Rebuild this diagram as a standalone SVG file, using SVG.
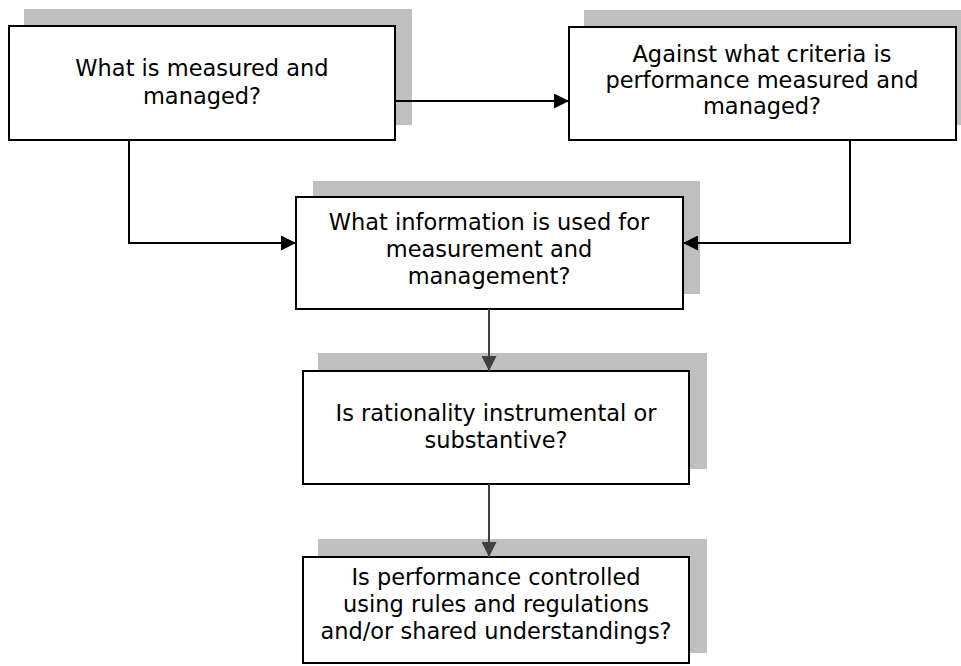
<svg xmlns="http://www.w3.org/2000/svg" width="961" height="666" viewBox="0 0 961 666">
  <style>
    .shadow { fill: #bfbfbf; }
    .box { fill: #ffffff; stroke: #000000; stroke-width: 2; }
    .label { font-family: "DejaVu Sans", Verdana, sans-serif; font-size: 22.5px; fill: #000000; text-anchor: middle; }
    .link { fill: none; stroke: #000000; stroke-width: 2; }
    .down { fill: none; stroke: #404040; stroke-width: 2; }
  </style>
  <defs>
    <marker id="arrow-black" viewBox="0 0 15 15" refX="15" refY="7.5" markerWidth="15" markerHeight="15" markerUnits="userSpaceOnUse" orient="auto">
      <path d="M0,0 L15,7.5 L0,15 Z" fill="#000000"/>
    </marker>
    <marker id="arrow-gray" viewBox="0 0 15 15" refX="15" refY="7.5" markerWidth="15" markerHeight="15" markerUnits="userSpaceOnUse" orient="auto">
      <path d="M0,0 L15,7.5 L0,15 Z" fill="#404040"/>
    </marker>
  </defs>

  <rect width="961" height="666" fill="#ffffff"/>

  <g id="node-measured">
    <rect class="shadow" x="24" y="9" width="388" height="116"/>
    <rect class="box" x="9" y="26" width="386" height="114"/>
    <text class="label" x="202" y="76">What is measured and</text>
    <text class="label" x="202" y="104">managed?</text>
  </g>

  <g id="node-criteria">
    <rect class="shadow" x="584" y="10" width="377" height="115"/>
    <rect class="box" x="569" y="27" width="387" height="113"/>
    <text class="label" x="762" y="62">Against what criteria is</text>
    <text class="label" x="762" y="88">performance measured and</text>
    <text class="label" x="762" y="114">managed?</text>
  </g>

  <g id="node-information">
    <rect class="shadow" x="313" y="181" width="387" height="113"/>
    <rect class="box" x="296" y="197" width="387" height="112"/>
    <text class="label" x="489" y="230">What information is used for</text>
    <text class="label" x="489" y="257">measurement and</text>
    <text class="label" x="489" y="284">management?</text>
  </g>

  <g id="node-rationality">
    <rect class="shadow" x="318" y="353" width="389" height="116"/>
    <rect class="box" x="303" y="371" width="386" height="113"/>
    <text class="label" x="496" y="421">Is rationality instrumental or</text>
    <text class="label" x="496" y="448">substantive?</text>
  </g>

  <g id="node-control">
    <rect class="shadow" x="318" y="539" width="389" height="114"/>
    <rect class="box" x="303" y="557" width="386" height="106"/>
    <text class="label" x="496" y="585">Is performance controlled</text>
    <text class="label" x="496" y="612">using rules and regulations</text>
    <text class="label" x="496" y="639">and/or shared understandings?</text>
  </g>

  <g id="connectors">
    <path class="link" d="M395,101 H569" marker-end="url(#arrow-black)"/>
    <path class="link" d="M129,140 V243 H296" marker-end="url(#arrow-black)"/>
    <path class="link" d="M850,140 V243 H683" marker-end="url(#arrow-black)"/>
    <path class="down" d="M489,309 V371" marker-end="url(#arrow-gray)"/>
    <path class="down" d="M489,484 V557" marker-end="url(#arrow-gray)"/>
  </g>
</svg>
